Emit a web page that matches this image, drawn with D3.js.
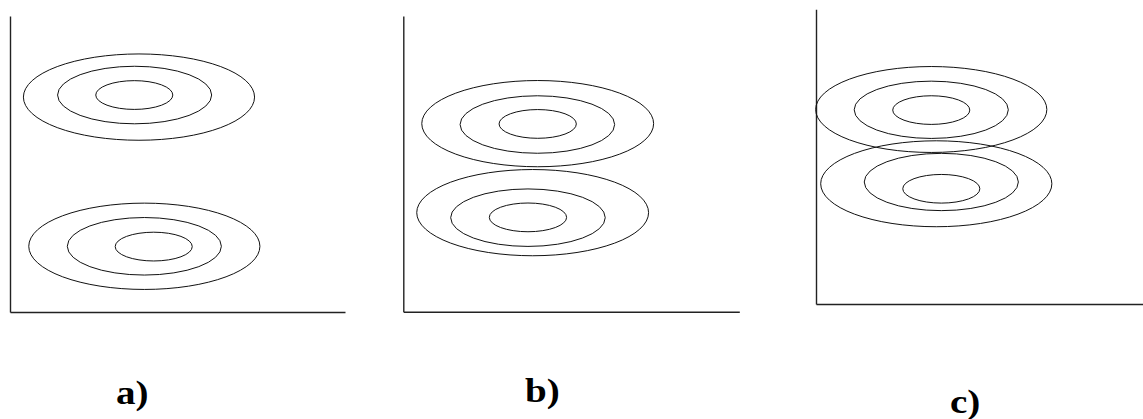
<!DOCTYPE html>
<html>
<head>
<meta charset="utf-8">
<script src="https://cdn.jsdelivr.net/npm/d3@7"></script>
<style>
  html, body { margin: 0; padding: 0; background: #fff; }
  svg { display: block; }
  .caption { font-family: "Liberation Serif", "Times New Roman", Times, serif; font-weight: bold; }
</style>
</head>
<body>
<svg id="chart" width="1143" height="419"></svg>
<script>
// Panel captions
const panelLabels = ["a)", "b)", "c)"];

// Contour levels (1σ, 2σ, 3σ) and the base spread of each cluster
const levels = [1, 2, 3];
const spreadX = 1.15;
const spreadY = 0.486;

// Centre of each contour ring, per panel and cluster: [level, cx, cy]
const panelA_top    = [[3, 3.85, 7.26], [2, 3.72, 7.33], [1, 3.71, 7.33]];
const panelA_bottom = [[3, 4.01, 2.22], [2, 4.01, 2.22], [1, 4.29, 2.21]];
const panelB_top    = [[3, 4.00, 6.36], [2, 3.99, 6.33], [1, 4.00, 6.35]];
const panelB_bottom = [[3, 3.85, 3.35], [2, 3.71, 3.18], [1, 3.71, 3.19]];
const panelC_top    = [[3, 3.44, 6.60], [2, 3.44, 6.59], [1, 3.44, 6.58]];
const panelC_bottom = [[3, 3.59, 4.08], [2, 3.74, 4.14], [1, 3.74, 3.91]];

const panelData = [
  [panelA_top, panelA_bottom],
  [panelB_top, panelB_bottom],
  [panelC_top, panelC_bottom]
];

// Axis domains per panel
const xMax = [10, 10, 9.76];
const yMax = [10, 10, 10];

// Layout of each panel: axis origin, axis length, caption position
const layout = [
  { x0: 10,    y0: 312,   w: 335, h: 296,   lx: 116, ly: 404 },
  { x0: 403.3, y0: 311.7, w: 336, h: 295.7, lx: 525, ly: 402 },
  { x0: 816,   y0: 304,   w: 327, h: 294.7, lx: 950, ly: 413 }
];

const svg = d3.select("#chart");

layout.forEach((L, i) => {
  const x = d3.scaleLinear().domain([0, xMax[i]]).range([L.x0, L.x0 + L.w]);
  const y = d3.scaleLinear().domain([0, yMax[i]]).range([L.y0, L.y0 - L.h]);
  const g = svg.append("g");

  // Axes: plain lines without ticks
  const xAxis = g.append("g")
    .attr("transform", `translate(0,${L.y0})`)
    .call(d3.axisBottom(x).tickValues([]).tickSizeOuter(0));
  const yAxis = g.append("g")
    .attr("transform", `translate(${L.x0},0)`)
    .call(d3.axisLeft(y).tickValues([]).tickSizeOuter(0));
  [xAxis, yAxis].forEach(a => a.select(".domain")
    .attr("stroke", "#222").attr("stroke-width", 1.4));

  // Contour ellipses
  const kx = x(1) - x(0);
  const ky = y(0) - y(1);
  panelData[i].forEach(cluster => {
    g.selectAll(null)
      .data(cluster)
      .enter()
      .append("ellipse")
      .attr("cx", d => x(d[1]))
      .attr("cy", d => y(d[2]))
      .attr("rx", d => levels[d[0] - 1] * spreadX * kx)
      .attr("ry", d => levels[d[0] - 1] * spreadY * ky)
      .attr("fill", "none")
      .attr("stroke", "#111")
      .attr("stroke-width", 1);
  });

  // Caption
  g.append("text")
    .attr("class", "caption")
    .attr("transform", `translate(${L.lx},${L.ly}) scale(1.15,1)`)
    .attr("font-size", 34)
    .attr("fill", "#000")
    .text(panelLabels[i]);
});
</script>
</body>
</html>
